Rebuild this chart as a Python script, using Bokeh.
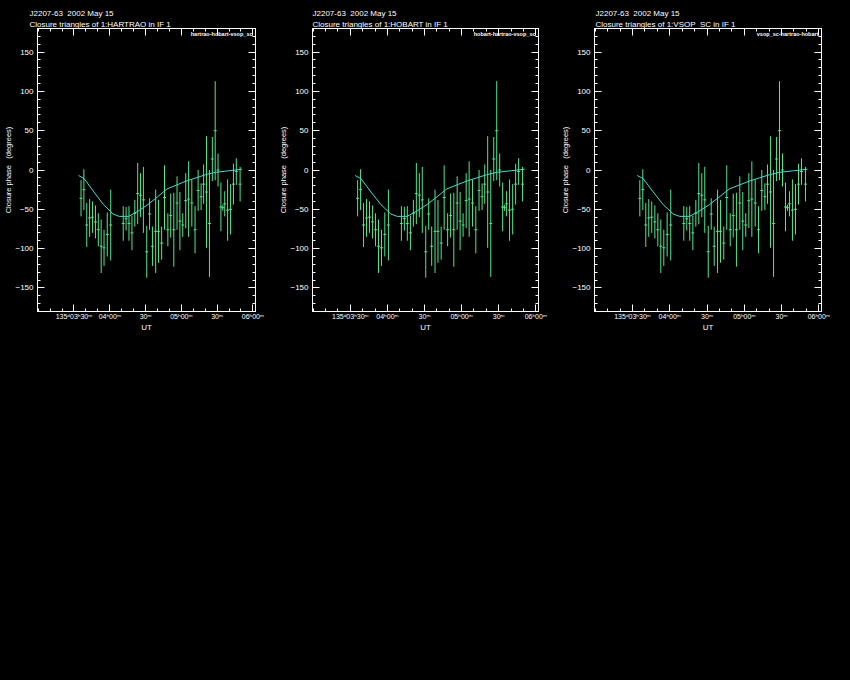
from bokeh.plotting import figure
from bokeh.models import FixedTicker, LinearAxis, Title, Label, Range1d, ColumnDataSource
from bokeh.layouts import row
from bokeh.embed import file_html
from bokeh.resources import INLINE

# ---------------- data ----------------
source_name = "J2207-63"
obs_date = "2002 May 15"
ref_antennas = ["HARTRAO", "HOBART", "VSOP_SC"]
triangles = ["hartrao-hobart-vsop_sc", "hobart-hartrao-vsop_sc", "vsop_sc-hartrao-hobart"]

# UT in minutes after 00:00 on day 135
ut_min = [215.9, 218.3, 220.7, 223.1, 225.5, 228.0, 230.4, 232.8, 235.2, 237.9, 240.8,
          251.3, 253.7, 256.1, 258.6, 261.0, 263.4, 265.8, 268.2, 271.0, 273.4, 275.8,
          278.5, 280.9, 283.5, 285.9, 288.7, 291.1, 293.7, 296.4, 298.8, 301.2, 303.7,
          306.1, 308.8, 311.5, 314.1, 316.6, 318.7, 321.1, 323.6, 326.0, 328.4, 330.8,
          333.2, 334.8, 336.4, 338.8, 341.3, 343.7, 346.1, 349.3]
phase = [-36, -25, -70, -61, -60, -66, -76, -97, -99, -82, -70,
         -68, -62, -68, -80, -55, -30, -32, -38, -104, -56, -97,
         -78, -78, -93, -35, -76, -58, -76, -42, -65, -70, -39,
         -37, -42, -76, -26, -34, -18, -28, -68, 14, 50, 0,
         -47, -48, -43, -51, -50, -18, -2, -18]
phase_err = [23, 26, 28, 24, 20, 21, 21, 34, 23, 28, 45,
             22, 15, 22, 22, 17, 39, 28, 42, 33, 20, 25,
             53, 40, 21, 41, 21, 28, 47, 34, 37, 15, 35,
             48, 30, 30, 26, 17, 25, 71, 68, 28, 63, 21,
             31, 4, 16, 39, 32, 26, 17, 22]

model_ut = [213.8, 218.6, 226.7, 234.7, 242.8, 247.9, 255.9, 264.0, 272.0,
            280.1, 288.1, 296.2, 304.2, 312.3, 320.3, 328.4, 339.7, 351.0]
model_phase = [-7, -11, -28, -44, -56, -59, -59, -52, -44,
               -34, -24, -19, -14, -10, -6, -3, -1, 1]

x_ticks = [210, 240, 270, 300, 330, 360]
x_minor = list(range(180, 370, 10))
x_tick_labels = ["135\u1d4803\u02b030\u1d50", "04\u02b000\u1d50", "30\u1d50",
                 "05\u02b000\u1d50", "30\u1d50", "06\u02b000\u1d50"]
y_ticks = [-150, -100, -50, 0, 50, 100, 150]
y_minor = list(range(-180, 181, 10))
y_tick_labels = ["\u2212150", "\u2212100", "\u221250", "0", "50", "100", "150"]

x_lo, x_hi = 179.4, 362.2
y_lo, y_hi = -180, 180

NB = "\u00a0"
y_title = f"Closure phase{NB}{NB} (degrees)"
x_title = "UT"

# ---------------- style ----------------
FONT = "Liberation Sans"
GREEN = "#55e58c"
CYAN = "#3fded0"

lo = [c - e for c, e in zip(phase, phase_err)]
hi = [c + e for c, e in zip(phase, phase_err)]
src = ColumnDataSource(dict(t=ut_min, c=phase, lo=lo, hi=hi))
msrc = ColumnDataSource(dict(t=model_ut, m=model_phase))


def style_axis(ax):
    ax.axis_line_color = "white"
    ax.major_tick_line_color = "white"
    ax.minor_tick_line_color = "white"
    ax.major_tick_in = 7
    ax.major_tick_out = 0
    ax.minor_tick_in = 3
    ax.minor_tick_out = 0
    ax.major_label_text_color = "white"
    ax.major_label_text_font = FONT
    ax.major_label_text_font_size = "8px"
    ax.axis_label_text_color = "white"
    ax.axis_label_text_font = FONT
    ax.axis_label_text_font_style = "normal"
    ax.axis_label_text_font_size = "8px"


def tick_only_axis(ticks, length):
    ax = LinearAxis(ticker=FixedTicker(ticks=[], minor_ticks=ticks))
    ax.axis_line_color = "white"
    ax.minor_tick_line_color = "white"
    ax.minor_tick_in = length
    ax.minor_tick_out = 0
    ax.major_tick_in = 0
    ax.major_tick_out = 0
    ax.major_label_standoff = 0
    ax.axis_label_standoff = 0
    return ax


def panel(i, width, border_right, title_offset):
    p = figure(width=width, height=680,
               x_range=Range1d(x_lo, x_hi), y_range=Range1d(y_lo, y_hi),
               output_backend="svg", toolbar_location=None,
               background_fill_color="black", border_fill_color="black",
               min_border_left=37, min_border_right=border_right,
               min_border_top=28, min_border_bottom=369,
               x_axis_label=x_title)
    p.outline_line_color = "white"
    p.xgrid.visible = False
    p.ygrid.visible = False

    p.xaxis.ticker = FixedTicker(ticks=x_ticks, minor_ticks=x_minor)
    p.yaxis.ticker = FixedTicker(ticks=y_ticks, minor_ticks=y_minor)
    p.xaxis.major_label_overrides = dict(zip(x_ticks, x_tick_labels))
    p.yaxis.major_label_overrides = dict(zip(y_ticks, y_tick_labels))
    style_axis(p.xaxis[0])
    style_axis(p.yaxis[0])
    p.xaxis.major_label_text_font_size = "7px"
    p.xaxis.major_label_standoff = 1
    p.xaxis.axis_label_standoff = 0
    p.yaxis.major_label_standoff = 4

    p.add_layout(tick_only_axis(x_minor, 3), "above")
    p.add_layout(tick_only_axis(x_ticks, 7), "above")
    p.add_layout(tick_only_axis(y_minor, 3), "right")
    p.add_layout(tick_only_axis(y_ticks, 7), "right")

    t2 = Title(text=f"Closure triangles of 1:{ref_antennas[i]} in IF 1", align="left",
               text_color="white", text_font=FONT, text_font_size="8px",
               text_font_style="normal", standoff=0, offset=title_offset)
    t1 = Title(text=f"{source_name}{NB} {obs_date}", align="left",
               text_color="white", text_font=FONT, text_font_size="8px",
               text_font_style="normal", standoff=0, offset=title_offset)
    p.add_layout(t2, "above")
    p.add_layout(t1, "above")

    # y-axis title on the left border
    p.add_layout(Title(text=y_title, align="center", text_color="white", text_font=FONT,
                       text_font_size="7.5px", text_font_style="normal", standoff=0), "left")

    p.segment(x0="t", y0="lo", x1="t", y1="hi", source=src, line_color=GREEN, line_width=1)
    p.scatter(x="t", y="c", source=src, marker="dash", size=3, line_color=GREEN)
    p.line(x="t", y="m", source=msrc, line_color=CYAN, line_width=1)

    p.add_layout(Label(x=x_hi, y=y_hi, x_offset=-3, y_offset=-2, text=triangles[i],
                       text_align="right", text_baseline="top", text_color="white",
                       text_font=FONT, text_font_size="5.5px", text_font_style="bold"))
    return p


p1 = panel(0, 275, 20, -8)
p2 = panel(1, 282, 19, 0)
p3 = panel(2, 293, 29, 1)

layout = row(p1, p2, p3, styles={"background-color": "black"})

html = file_html(layout, INLINE)
html = html.replace("<body>", '<body style="background-color: black;">', 1)
open("out.html", "w").write(html)
